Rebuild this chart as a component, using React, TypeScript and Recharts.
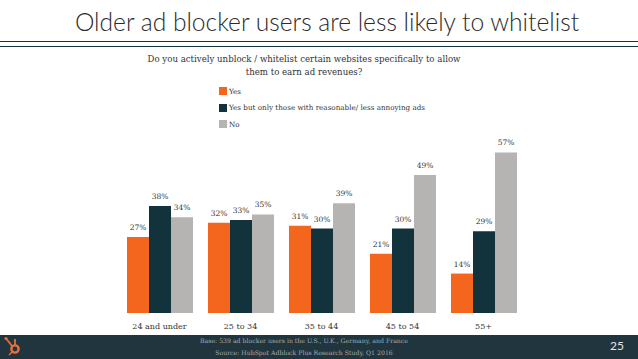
import React from "react";
import { BarChart, Bar, XAxis, YAxis, Legend, LabelList } from "recharts";

const categories = ["24 and under", "25 to 34", "35 to 44", "45 to 54", "55+"];
const yes = [27, 32, 31, 21, 14];
const yesOnly = [38, 33, 30, 30, 29];
const no = [34, 35, 39, 49, 57];
const seriesNames = ["Yes", "Yes but only those with reasonable/ less annoying ads", "No"];
const data = categories.map((c, i) => ({ c, yes: yes[i], yesOnly: yesOnly[i], no: no[i] }));

const ORANGE = "#f4661e";
const TEAL = "#12323c";
const GREY = "#b5b4b2";
const SERIF = "'DejaVu Serif', serif";
const SANS = "Lato, sans-serif";

const fmt = (v: any) => `${v}%`;
const labelStyle = { fontFamily: SERIF, fontSize: 7.5 };

function LegendBox({ payload }: any) {
  return (
    <div style={{ fontFamily: SERIF, fontSize: 7.2, color: "#333" }}>
      {(payload || []).map((p: any) => (
        <div key={p.value} style={{ display: "flex", alignItems: "center", height: 16.5 }}>
          <span style={{ width: 8, height: 8, background: p.color, marginRight: 2, display: "inline-block" }} />
          <span>{p.value}</span>
        </div>
      ))}
    </div>
  );
}

function abs(extra: React.CSSProperties): React.CSSProperties {
  return { position: "absolute", whiteSpace: "nowrap", ...extra };
}

export default function App() {
  return (
    <div style={abs({ left: 0, top: 0, width: 638, height: 359, background: "#fff", overflow: "hidden" })}>
      <div style={abs({ left: 0, width: 654, top: 7, textAlign: "center", fontFamily: SANS, fontWeight: 300, fontSize: 24.6, color: "#2b2b2b", lineHeight: "30px" })}>
        Older ad blocker users are less likely to whitelist
      </div>
      <div style={abs({ left: 0, top: 41, width: 638, height: 1, background: TEAL })} />
      <div style={abs({ left: 0, top: 46, width: 638, height: 1, background: TEAL })} />
      <div style={abs({ left: 0, width: 608, top: 53, textAlign: "center", fontFamily: SERIF, fontSize: 8.6, color: "#333", lineHeight: "13px", whiteSpace: "normal" })}>
        Do you actively unblock / whitelist certain websites specifically to allow
        <br />
        them to earn ad revenues?
      </div>

      <div style={abs({ left: 0, top: 0 })}>
        <BarChart
          width={638}
          height={359}
          data={data}
          barCategoryGap={8}
          barGap={0}
          margin={{ top: 144, right: 114, bottom: 0, left: 119 }}
        >
          <XAxis
            dataKey="c"
            height={46}
            axisLine={false}
            tickLine={false}
            interval={0}
            tick={{ fontFamily: SERIF, fontSize: 8, fill: "#333" }}
            tickMargin={4}
          />
          <YAxis hide domain={[0, 60]} />
          <Legend
            layout="vertical"
            align="center"
            verticalAlign="middle"
            itemSorter={null as any}
            content={<LegendBox />}
            wrapperStyle={{ position: "absolute", left: 219, top: 83, width: 260, bottom: "auto", right: "auto" }}
          />
          <Bar dataKey="yes" name={seriesNames[0]} fill={ORANGE} isAnimationActive={false}>
            <LabelList dataKey="yes" position="top" offset={7} formatter={fmt} fill="#333" style={labelStyle} />
          </Bar>
          <Bar dataKey="yesOnly" name={seriesNames[1]} fill={TEAL} isAnimationActive={false}>
            <LabelList dataKey="yesOnly" position="top" offset={7} formatter={fmt} fill="#333" style={labelStyle} />
          </Bar>
          <Bar dataKey="no" name={seriesNames[2]} fill={GREY} isAnimationActive={false}>
            <LabelList dataKey="no" position="top" offset={7} formatter={fmt} fill="#333" style={labelStyle} />
          </Bar>
        </BarChart>
      </div>

      <div style={abs({ left: 0, top: 335, width: 638, height: 24, background: "#21353f" })} />
      <svg width={24} height={24} style={abs({ left: 3, top: 335 })}>
        <g stroke="#e8703a" fill="none">
          <circle cx={12} cy={14} r={3.6} strokeWidth={2.4} />
          <line x1={9} y1={11} x2={3.5} y2={4} strokeWidth={1.8} />
          <line x1={12} y1={10} x2={12} y2={4} strokeWidth={1.8} />
          <line x1={9} y1={17} x2={6} y2={20} strokeWidth={1.5} />
        </g>
        <circle cx={3} cy={3.5} r={1.6} fill="#e8703a" />
      </svg>
      <div style={abs({ left: 0, width: 608, top: 335, textAlign: "center", fontFamily: SERIF, fontSize: 6.2, color: "#a3adb1", lineHeight: "12px" })}>
        Base: 539 ad blocker users in the U.S., U.K., Germany, and France
        <br />
        Source: HubSpot Adblock Plus Research Study, Q1 2016
      </div>
      <div style={abs({ left: 610, top: 339, fontFamily: SANS, fontSize: 12, color: "#e4e8ea", lineHeight: "14px" })}>25</div>
    </div>
  );
}
